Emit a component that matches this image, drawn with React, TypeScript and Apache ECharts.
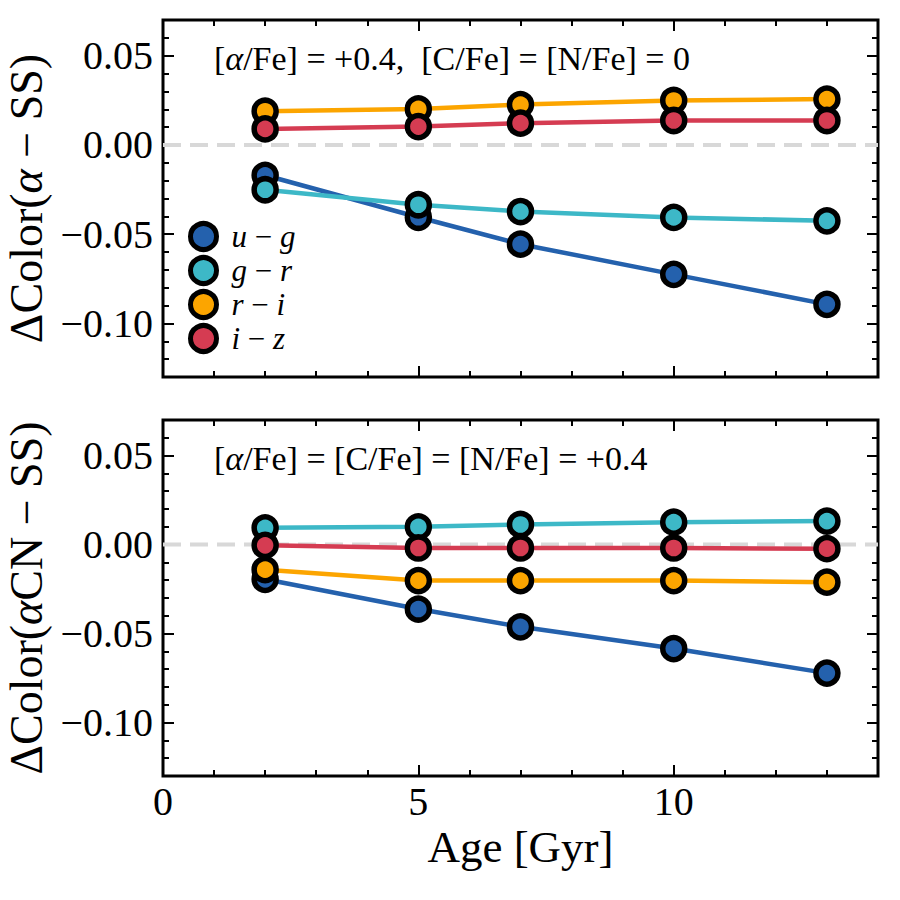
import React, { useEffect, useRef } from "react";
import * as echarts from "echarts";

// Ages at which the colour differences were computed [Gyr]
const AGES = [2, 5, 7, 10, 13];

// Top panel: alpha-enhanced minus scaled-solar
const UG_ALPHA = [-0.017, -0.0405, -0.0556, -0.0725, -0.0893];
const GR_ALPHA = [-0.0251, -0.0335, -0.0373, -0.0406, -0.0425];
const RI_ALPHA = [0.0189, 0.0202, 0.0226, 0.0249, 0.0257];
const IZ_ALPHA = [0.009, 0.0103, 0.0122, 0.0137, 0.0137];

// Bottom panel: alpha + C + N enhanced minus scaled-solar
const UG_ACN = [-0.0195, -0.0362, -0.0462, -0.0584, -0.0722];
const GR_ACN = [0.0094, 0.01, 0.0113, 0.0126, 0.0132];
const RI_ACN = [-0.0141, -0.0202, -0.0202, -0.0202, -0.0211];
const IZ_ACN = [-0.0004, -0.0019, -0.0019, -0.0019, -0.0023];

const SERIES_NAMES = ["u-g", "g-r", "r-i", "i-z"];
const SERIES_COLORS = ["#2461ad", "#3db8c7", "#fca500", "#d53c52"];

const X_RANGE = [0, 14];
const Y_RANGE = [-0.13, 0.07];
const X_MAJOR_TICKS = [0, 5, 10];
const Y_MAJOR_TICKS = [-0.1, -0.05, 0, 0.05];
const X_MINOR_STEP = 1;
const Y_MINOR_STEP = 0.01;
const ZERO_LINE = [
  [X_RANGE[0], 0],
  [X_RANGE[1], 0],
];

const FONT = "Liberation Serif";

const fmtY = (v: number) => {
  const s = Math.abs(v).toFixed(2);
  return v < -1e-9 ? "\u2212" + s : s;
};

const TICK_STYLE = { color: "#000", width: 2 };

function xAxes(gridIndex: number, withLabels: boolean) {
  const common = {
    gridIndex,
    type: "value",
    min: X_RANGE[0],
    max: X_RANGE[1],
    axisLine: { show: false, onZero: false },
    splitLine: { show: false },
  };
  const major = (position: string, labels: boolean) => ({
    ...common,
    position,
    axisTick: {
      show: true,
      inside: true,
      length: 11,
      lineStyle: TICK_STYLE,
      customValues: X_MAJOR_TICKS,
    },
    axisLabel: labels
      ? {
          show: true,
          customValues: X_MAJOR_TICKS,
          fontFamily: FONT,
          fontSize: 40,
          color: "#000",
          margin: 5,
        }
      : { show: false },
    ...(labels
      ? {
          name: "Age [Gyr]",
          nameLocation: "middle",
          nameGap: 48,
          nameTextStyle: { fontFamily: FONT, fontSize: 45, color: "#000" },
        }
      : {}),
  });
  const minor = (position: string) => ({
    ...common,
    position,
    interval: X_MINOR_STEP,
    axisTick: { show: true, inside: true, length: 6, lineStyle: TICK_STYLE },
    axisLabel: { show: false },
  });
  return [major("bottom", withLabels), minor("bottom"), major("top", false), minor("top")];
}

function yAxes(gridIndex: number, title: string) {
  const common = {
    gridIndex,
    type: "value",
    min: Y_RANGE[0],
    max: Y_RANGE[1],
    axisLine: { show: false, onZero: false },
    splitLine: { show: false },
  };
  const major = (position: string, labels: boolean) => ({
    ...common,
    position,
    axisTick: {
      show: true,
      inside: true,
      length: 11,
      lineStyle: TICK_STYLE,
      customValues: Y_MAJOR_TICKS,
    },
    axisLabel: labels
      ? {
          show: true,
          customValues: Y_MAJOR_TICKS,
          formatter: fmtY,
          fontFamily: FONT,
          fontSize: 40,
          color: "#000",
          margin: 10,
        }
      : { show: false },
    ...(labels
      ? {
          name: title,
          nameLocation: "middle",
          nameGap: 112,
          nameTextStyle: {
            fontFamily: FONT,
            fontSize: 46,
            lineHeight: 46,
            color: "#000",
            rich: {
              i: { fontFamily: FONT, fontSize: 46, lineHeight: 46, fontStyle: "italic", color: "#000" },
            },
          },
        }
      : {}),
  });
  const minor = (position: string) => ({
    ...common,
    position,
    interval: Y_MINOR_STEP,
    axisTick: { show: true, inside: true, length: 6, lineStyle: TICK_STYLE },
    axisLabel: { show: false },
  });
  return [major("left", true), minor("left"), major("right", false), minor("right")];
}

function panelSeries(axisIndex: number, values: number[][]) {
  const zero = {
    type: "line",
    name: "zero",
    xAxisIndex: axisIndex,
    yAxisIndex: axisIndex,
    data: ZERO_LINE,
    symbol: "none",
    silent: true,
    z: 1,
    lineStyle: { color: "#d8d8d8", width: 4, type: [18, 9] },
  };
  const lines = values.map((vals, k) => ({
    type: "line",
    name: SERIES_NAMES[k],
    xAxisIndex: axisIndex,
    yAxisIndex: axisIndex,
    data: AGES.map((a, i) => [a, vals[i]]),
    symbol: "circle",
    symbolSize: 22,
    z: 2 + k,
    color: SERIES_COLORS[k],
    lineStyle: { color: SERIES_COLORS[k], width: 4.5 },
    itemStyle: { color: SERIES_COLORS[k], borderColor: "#000", borderWidth: 5.5 },
  }));
  return [zero, ...lines];
}

export default function App() {
  const ref = useRef<HTMLDivElement>(null);

  useEffect(() => {
    if (!ref.current) return;
    const chart = echarts.init(ref.current, null, { renderer: "svg" });

    const italic = { fontFamily: FONT, fontSize: 34, fontStyle: "italic", fill: "#000" };
    const gridBase = {
      left: 163,
      right: 22,
      show: true,
      borderColor: "#000",
      borderWidth: 3,
      backgroundColor: "transparent",
      outerBoundsMode: "none",
      containLabel: false,
    };

    chart.setOption({
      animation: false,
      backgroundColor: "#fff",
      grid: [
        { ...gridBase, top: 20, height: 357 },
        { ...gridBase, top: 420, height: 356 },
      ],
      xAxis: [...xAxes(0, false), ...xAxes(1, true)],
      yAxis: [
        ...yAxes(0, "\u0394Color({i|\u03b1} \u2212 SS)"),
        ...yAxes(1, "\u0394Color({i|\u03b1}CN \u2212 SS)"),
      ],
      legend: {
        data: SERIES_NAMES,
        orient: "vertical",
        left: 183,
        top: 216,
        icon: "circle",
        itemWidth: 26,
        itemHeight: 26,
        itemGap: 3,
        itemStyle: { borderColor: "#000", borderWidth: 5 },
        formatter: (name: string) => {
          const [a, b] = name.split("-");
          return `{i|${a}} \u2212 {i|${b}}`;
        },
        textStyle: {
          fontFamily: FONT,
          fontSize: 31,
          color: "#000",
          padding: [0, 0, 0, 10],
          rich: {
            i: { fontFamily: FONT, fontSize: 31, fontStyle: "italic", color: "#000" },
          },
        },
      },
      graphic: [
        {
          type: "text",
          left: 214,
          top: 41,
          style: {
            text: "[{i|\u03b1}/Fe] = +0.4,  [C/Fe] = [N/Fe] = 0",
            fontFamily: FONT,
            fontSize: 34,
            fill: "#000",
            rich: { i: italic },
          },
        },
        {
          type: "text",
          left: 214,
          top: 441,
          style: {
            text: "[{i|\u03b1}/Fe] = [C/Fe] = [N/Fe] = +0.4",
            fontFamily: FONT,
            fontSize: 34,
            fill: "#000",
            rich: { i: italic },
          },
        },
      ],
      series: [
        ...panelSeries(0, [UG_ALPHA, GR_ALPHA, RI_ALPHA, IZ_ALPHA]),
        ...panelSeries(4, [UG_ACN, GR_ACN, RI_ACN, IZ_ACN]),
      ],
    });

    return () => chart.dispose();
  }, []);

  return <div ref={ref} style={{ width: 900, height: 900, position: "absolute", left: 0, top: 0 }} />;
}
